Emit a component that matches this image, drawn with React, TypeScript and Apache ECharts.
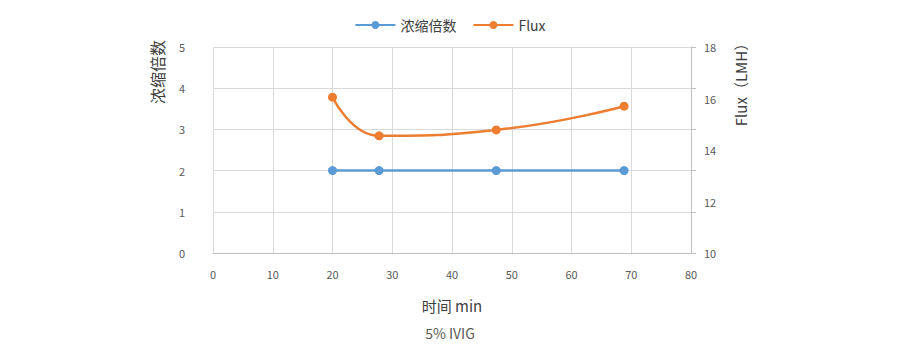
import React, { useEffect, useRef } from "react";
import * as echarts from "echarts";

const timeMin = [20, 27.8, 47.4, 68.8];
const concFactor = [2, 2, 2, 2];
const flux = [16.05, 14.55, 14.78, 15.7];
const legendNames = ["浓缩倍数", "Flux"];
const leftAxisName = "浓缩倍数";
const rightAxisName = "Flux（LMH）";
const xAxisName = "时间 min";
const subtitle = "5% IVIG";

const FONT = "'Noto Sans CJK SC', 'Noto Sans', sans-serif";

export default function App() {
  const ref = useRef<HTMLDivElement>(null);
  useEffect(() => {
    if (!ref.current) return;
    const chart = echarts.init(ref.current, undefined, { renderer: "svg" });
    const tickLabel = { color: "#595959", fontSize: 11, fontFamily: FONT };
    chart.setOption({
      animation: false,
      textStyle: { fontFamily: FONT },
      legend: {
        top: 13,
        left: "center",
        itemWidth: 40,
        itemHeight: 10,
        itemGap: 16,
        textStyle: { color: "#404040", fontSize: 14, fontFamily: FONT },
        data: legendNames,
      },
      title: {
        text: subtitle,
        left: "center",
        top: 321,
        textStyle: { color: "#595959", fontSize: 14, fontWeight: "normal", fontFamily: FONT },
      },
      grid: { left: 213, right: 209, top: 47, bottom: 105 },
      xAxis: {
        type: "value",
        min: 0,
        max: 80,
        interval: 10,
        name: xAxisName,
        nameLocation: "middle",
        nameGap: 45,
        nameTextStyle: { color: "#404040", fontSize: 15, fontFamily: FONT },
        axisLine: { show: true, lineStyle: { color: "#BFBFBF", width: 1 } },
        axisTick: { show: false },
        axisLabel: { ...tickLabel, margin: 15 },
        splitLine: { show: true, lineStyle: { color: "#D9D9D9", width: 1 } },
      },
      yAxis: [
        {
          type: "value",
          min: 0,
          max: 5,
          interval: 1,
          position: "left",
          axisLine: { show: false },
          axisTick: { show: false },
          axisLabel: { ...tickLabel, margin: 28 },
          splitLine: { show: true, lineStyle: { color: "#D9D9D9", width: 1 } },
        },
        {
          type: "value",
          min: 10,
          max: 18,
          interval: 2,
          position: "right",
          axisLine: { show: false },
          axisTick: { show: false },
          axisLabel: { ...tickLabel, margin: 13 },
          splitLine: { show: false },
        },
        {
          type: "value",
          min: 0,
          max: 5,
          interval: 1,
          position: "right",
          axisLine: { show: true, lineStyle: { color: "#BFBFBF", width: 1 } },
          axisTick: { show: true, length: 5, lineStyle: { color: "#BFBFBF" } },
          axisLabel: { show: false },
          splitLine: { show: false },
        },
      ],
      series: [
        {
          name: legendNames[0],
          type: "line",
          yAxisIndex: 0,
          data: timeMin.map((t, i) => [t, concFactor[i]]),
          symbol: "circle",
          symbolSize: 9,
          lineStyle: { color: "#5B9BD5", width: 2.5 },
          itemStyle: { color: "#5B9BD5" },
        },
        {
          name: legendNames[1],
          type: "line",
          yAxisIndex: 1,
          smooth: 0.5,
          data: timeMin.map((t, i) => [t, flux[i]]),
          symbol: "circle",
          symbolSize: 9,
          lineStyle: { color: "#ED7D31", width: 2.5 },
          itemStyle: { color: "#ED7D31" },
        },
      ],
      graphic: [
        {
          type: "text",
          x: 157,
          y: 72,
          rotation: Math.PI / 2,
          style: {
            text: leftAxisName,
            fill: "#404040",
            fontSize: 16,
            fontFamily: FONT,
            align: "center",
            verticalAlign: "middle",
          },
        },
        {
          type: "text",
          x: 740,
          y: 81,
          rotation: Math.PI / 2,
          style: {
            text: rightAxisName,
            fill: "#404040",
            fontSize: 15,
            fontFamily: FONT,
            align: "center",
            verticalAlign: "middle",
          },
        },
      ],
    });
    return () => chart.dispose();
  }, []);
  return <div ref={ref} style={{ width: 900, height: 358, margin: -8 }} />;
}
